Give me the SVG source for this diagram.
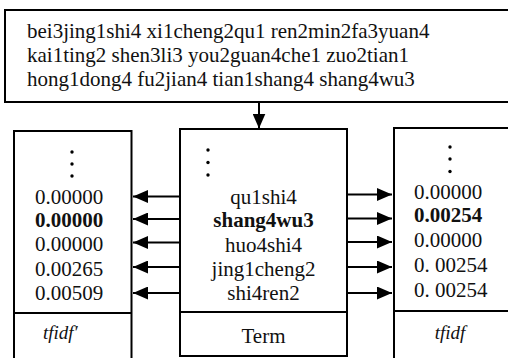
<svg xmlns="http://www.w3.org/2000/svg" width="508" height="358" viewBox="0 0 508 358">
<style>
.box{fill:#fff;stroke:#000;stroke-width:2}
.t{font-family:"Liberation Serif","Times New Roman",serif;font-size:21px;fill:#111}
.b{font-weight:bold}
.it{font-style:italic;font-size:19px}
.m{text-anchor:middle}
.c{stroke:#000;stroke-width:2;fill:none}
.dot{fill:#000}
</style>
<defs>
<marker id="ah" markerUnits="userSpaceOnUse" markerWidth="16" markerHeight="13" refX="15" refY="6.5" orient="auto">
<path d="M0,0 L15,6.5 L0,13 z" fill="#000"/>
</marker>
</defs>
<rect width="508" height="358" fill="#fff"/>
<g id="source">
<path class="box" d="M520,10 H5 V102 H520"/>
<text class="t" x="27" y="37.5">bei3jing1shi4 xi1cheng2qu1 ren2min2fa3yuan4</text>
<text class="t" x="27" y="61.5">kai1ting2 shen3li3 you2guan4che1 zuo2tian1</text>
<text class="t" x="27" y="85.5">hong1dong4 fu2jian4 tian1shang4 shang4wu3</text>
</g>
<g id="tfidf-prime">
<rect class="box" x="14" y="131" width="117.5" height="240"/>
<line class="c" x1="14" y1="313" x2="131.5" y2="313"/>
<circle class="dot" cx="72" cy="152" r="1.7"/>
<circle class="dot" cx="72" cy="164" r="1.7"/>
<circle class="dot" cx="72" cy="176" r="1.7"/>
<text class="t" x="35" y="203.5">0.00000</text>
<text class="t b" x="35" y="227">0.00000</text>
<text class="t" x="35" y="251">0.00000</text>
<text class="t" x="35" y="276">0.00265</text>
<text class="t" x="35" y="300">0.00509</text>
<text class="t it" x="43" y="339">tfidf′</text>
</g>
<g id="term">
<rect class="box" x="180" y="129" width="167" height="227"/>
<line class="c" x1="180" y1="312" x2="347" y2="312"/>
<circle class="dot" cx="208" cy="150" r="1.7"/>
<circle class="dot" cx="208" cy="162.5" r="1.7"/>
<circle class="dot" cx="208" cy="175" r="1.7"/>
<text class="t m" x="263.5" y="203.5">qu1shi4</text>
<text class="t m b" x="263.5" y="227">shang4wu3</text>
<text class="t m" x="263.5" y="251.5">huo4shi4</text>
<text class="t m" x="263.5" y="275.5">jing1cheng2</text>
<text class="t m" x="263.5" y="300">shi4ren2</text>
<text class="t m" x="263.5" y="342.5">Term</text>
</g>
<g id="tfidf">
<rect class="box" x="394" y="128" width="130" height="240"/>
<line class="c" x1="394" y1="311" x2="520" y2="311"/>
<circle class="dot" cx="450" cy="147" r="1.7"/>
<circle class="dot" cx="450" cy="159" r="1.7"/>
<circle class="dot" cx="450" cy="171.5" r="1.7"/>
<text class="t" x="414" y="198.5">0.00000</text>
<text class="t b" x="414" y="222">0.00254</text>
<text class="t" x="414" y="246.5">0.00000</text>
<text class="t" x="414" y="271.5">0. 00254</text>
<text class="t" x="414" y="296.5">0. 00254</text>
<text class="t it m" x="450" y="339">tfidf</text>
</g>
<g id="connectors">
<line class="c" x1="259" y1="102" x2="259" y2="128.5" marker-end="url(#ah)"/>
<line class="c" x1="180" y1="196.5" x2="133" y2="196.5" marker-end="url(#ah)"/>
<line class="c" x1="180" y1="219" x2="133" y2="219" marker-end="url(#ah)"/>
<line class="c" x1="180" y1="242.5" x2="133" y2="242.5" marker-end="url(#ah)"/>
<line class="c" x1="180" y1="267" x2="133" y2="267" marker-end="url(#ah)"/>
<line class="c" x1="180" y1="293" x2="133" y2="293" marker-end="url(#ah)"/>
<line class="c" x1="347" y1="194.5" x2="392" y2="194.5" marker-end="url(#ah)"/>
<line class="c" x1="347" y1="218.5" x2="392" y2="218.5" marker-end="url(#ah)"/>
<line class="c" x1="347" y1="242" x2="392" y2="242" marker-end="url(#ah)"/>
<line class="c" x1="347" y1="267" x2="392" y2="267" marker-end="url(#ah)"/>
<line class="c" x1="347" y1="293" x2="392" y2="293" marker-end="url(#ah)"/>
</g>
</svg>
